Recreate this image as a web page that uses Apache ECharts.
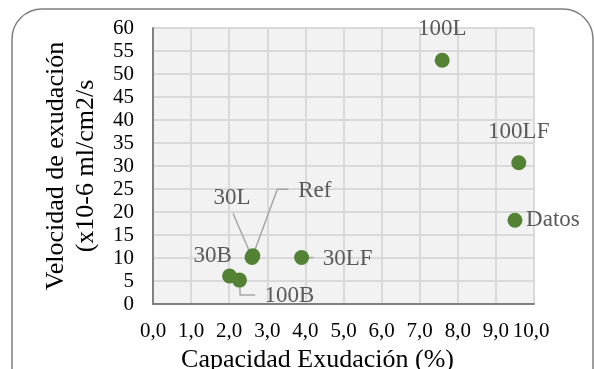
<!DOCTYPE html>
<html>
<head>
<meta charset="utf-8">
<script src="https://cdn.jsdelivr.net/npm/echarts@6/dist/echarts.min.js"></script>
<style>
html,body{margin:0;padding:0;background:#fff;}
#chart{width:594px;height:369px;}
</style>
</head>
<body>
<div id="chart"></div>
<script>
// Data
var pointNames = ['100L', '100LF', 'Datos', '30LF', '30L', 'Ref', '30B', '100B'];
var capacidad  = [7.59, 9.6, 9.5, 3.9, 2.6, 2.62, 2.01, 2.27];   // x: Capacidad Exudación (%)
var velocidad  = [53.0, 30.7, 18.2, 10.1, 10.1, 10.5, 6.1, 5.2]; // y: Velocidad de exudación
var xTicks = ['0,0','1,0','2,0','3,0','4,0','5,0','6,0','7,0','8,0','9,0','10,0'];
var yTicks = [0, 5, 10, 15, 20, 25, 30, 35, 40, 45, 50, 55, 60];

// Label placement (offset of label centre from marker centre, px)
var labelOffsets = {
  '100L': [0, -31], '100LF': [0, -31], 'Datos': [38, 0], '30LF': [46, 1],
  '30L': [-20, -60], 'Ref': [62, -65], '30B': [-17, -20], '100B': [50, 16]
};
// Leader-line shapes (px offsets from the marker centre)
var leaderShapes = {
  '30LF': [[0, 0], [12, 0]],
  '30L': [[0, 0], [-19, -44]],
  'Ref': [[0, 0], [24.5, -66.5], [35.5, -66.5]],
  '100B': [[0, 0], [0.7, 15], [15.7, 15]]
};

var FONT = '"Liberation Serif", "Times New Roman", serif';
var chart = echarts.init(document.getElementById('chart'), null, {renderer: 'canvas'});

var seriesData = pointNames.map(function (n, i) {
  return {name: n, value: [capacidad[i], velocidad[i]]};
});
var leaderData = [];
pointNames.forEach(function (n, i) {
  if (leaderShapes[n]) leaderData.push({name: n, value: [capacidad[i], velocidad[i]]});
});

chart.setOption({
  animation: false,
  graphic: [{
    type: 'rect',
    shape: {x: 12, y: 9, width: 581, height: 400, r: 30},
    style: {fill: 'none', stroke: '#7f7f7f', lineWidth: 1.5},
    silent: true, z: -10
  }],
  grid: {
    left: 153, top: 28, right: 60, bottom: 65,
    containLabel: false, outerBoundsMode: 'none',
    show: true, backgroundColor: '#f2f2f2', borderWidth: 0
  },
  xAxis: {
    type: 'value', min: 0, max: 10, interval: 1,
    name: 'Capacidad Exudación (%)', nameLocation: 'middle', nameGap: 41,
    nameTextStyle: {fontFamily: FONT, fontSize: 26, color: '#000', padding: [0, 52, 0, 0]},
    axisLine: {show: true, lineStyle: {color: '#808080', width: 2}},
    axisTick: {show: false},
    splitLine: {show: true, lineStyle: {color: '#d9d9d9', width: 2}},
    axisLabel: {
      fontFamily: FONT, fontSize: 21, color: '#000', margin: 17,
      showMinLabel: true, showMaxLabel: true, hideOverlap: false,
      formatter: function (v) {
        var i = Math.round(v);
        return i === xTicks.length - 1 ? '{last|' + xTicks[i] + '}' : xTicks[i];
      },
      rich: {last: {fontFamily: FONT, fontSize: 21, color: '#000', padding: [0, 6, 0, 0]}}
    }
  },
  yAxis: {
    type: 'value', min: 0, max: 60, interval: 5,
    name: 'Velocidad de exudación\n(x10-6 ml/cm2/s', nameLocation: 'middle', nameGap: 52,
    nameRotate: 90,
    nameTextStyle: {fontFamily: FONT, fontSize: 26, color: '#000', lineHeight: 30},
    axisLine: {show: true, lineStyle: {color: '#808080', width: 2}},
    axisTick: {show: false},
    splitLine: {show: true, lineStyle: {color: '#d9d9d9', width: 2}},
    axisLabel: {
      fontFamily: FONT, fontSize: 21, color: '#000', margin: 19,
      showMinLabel: true, showMaxLabel: true,
      formatter: function (v) { return yTicks.indexOf(v) >= 0 ? String(v) : ''; }
    }
  },
  series: [{
    type: 'custom',
    z: 1,
    silent: true,
    data: leaderData,
    renderItem: function (params, api) {
      var name = leaderData[params.dataIndex].name;
      var c = api.coord([api.value(0), api.value(1)]);
      var pts = leaderShapes[name].map(function (p) { return [c[0] + p[0], c[1] + p[1]]; });
      return {
        type: 'polyline',
        shape: {points: pts},
        style: {stroke: '#a6a6a6', lineWidth: 1.5, fill: 'none'}
      };
    }
  }, {
    type: 'scatter',
    z: 2,
    symbolSize: 15,
    itemStyle: {color: '#548235', opacity: 1},
    data: seriesData,
    label: {
      show: true, position: 'inside',
      formatter: function (p) { return p.name; },
      fontFamily: FONT, fontSize: 23, color: '#595959'
    },
    labelLayout: function (params) {
      var o = labelOffsets[pointNames[params.dataIndex]];
      return {dx: o[0], dy: o[1]};
    }
  }]
});
</script>
</body>
</html>
